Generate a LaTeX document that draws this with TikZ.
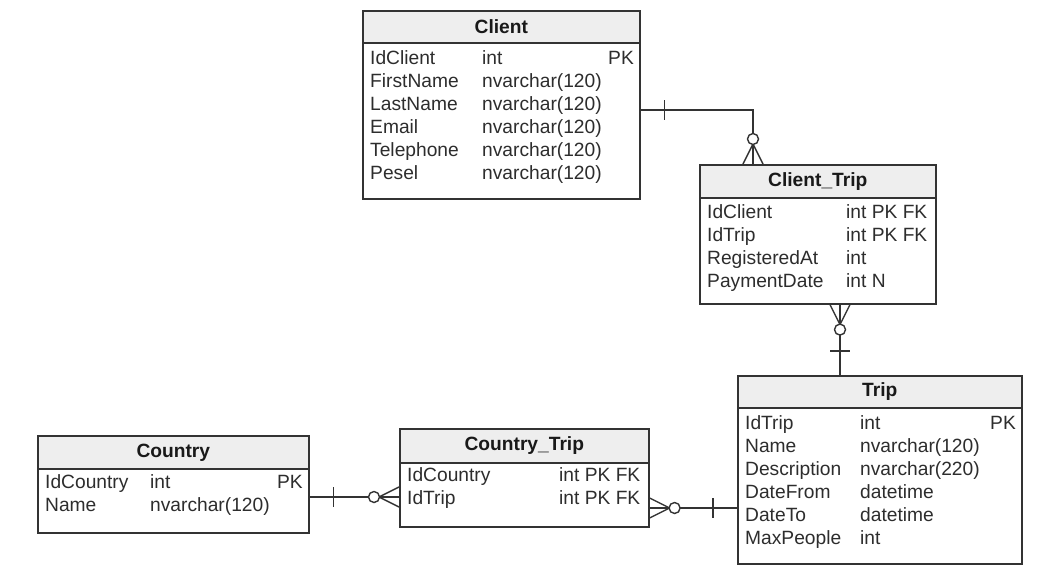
\documentclass[tikz,border=0pt]{standalone}
\usepackage{fontspec}
\setmainfont{Liberation Sans}
\usetikzlibrary{calc}
\definecolor{headgray}{RGB}{238,238,238}
\definecolor{edgegray}{RGB}{51,51,51}
\definecolor{textgray}{RGB}{45,45,45}

\begin{document}
\begin{tikzpicture}[x=1pt, y=-1pt,
  font=\fontsize{19.2}{22}\selectfont,
  tbl/.style={draw=edgegray, line width=1.6pt, fill=white, inner sep=0pt, anchor=north west},
  tblhead/.style={tbl, fill=headgray, font=\fontsize{19.2}{22}\selectfont\bfseries, text=black!90},
  fld/.style={anchor=base west, inner sep=0pt, text=textgray},
  keyfld/.style={anchor=base east, inner sep=0pt, text=textgray},
  rel/.style={draw=edgegray, line width=1.4pt}]
\useasboundingbox (0,0) rectangle (1055,571);

% tables
\node[tbl, minimum width=277pt, minimum height=188pt] (client) at (362,10) {};
\node[tblhead, minimum width=277pt, minimum height=32pt] (clienthd) at (362,10) {Client};
\foreach \a/\b [count=\i] in {IdClient/int, FirstName/nvarchar(120), LastName/nvarchar(120),
    Email/nvarchar(120), Telephone/nvarchar(120), Pesel/nvarchar(120)}{
  \node[fld] (client-n\i) at (370,{41+23*\i}) {\a};
  \node[fld] (client-t\i) at (482,{41+23*\i}) {\b};
}
\node[keyfld] (client-k) at (634,64) {PK};

\node[tbl, minimum width=236pt, minimum height=139pt] (ctrip) at (699,164) {};
\node[tblhead, minimum width=236pt, minimum height=33pt] (ctriphd) at (699,164) {Client\_Trip};
\foreach \a/\b [count=\i] in {IdClient/int PK FK, IdTrip/int PK FK, RegisteredAt/int, PaymentDate/int N}{
  \node[fld] (ctrip-n\i) at (707,{195.5+23*\i}) {\a};
  \node[fld] (ctrip-t\i) at (846,{195.5+23*\i}) {\b};
}

\node[tbl, minimum width=284pt, minimum height=188pt] (trip) at (737,375) {};
\node[tblhead, minimum width=284pt, minimum height=32pt] (triphd) at (737,375) {Trip};
\foreach \a/\b [count=\i] in {IdTrip/int, Name/nvarchar(120), Description/nvarchar(220),
    DateFrom/datetime, DateTo/datetime, MaxPeople/int}{
  \node[fld] (trip-n\i) at (745,{406.5+23*\i}) {\a};
  \node[fld] (trip-t\i) at (860,{406.5+23*\i}) {\b};
}
\node[keyfld] (trip-k) at (1016,429.5) {PK};

\node[tbl, minimum width=271pt, minimum height=97pt] (country) at (37,435) {};
\node[tblhead, minimum width=271pt, minimum height=33pt] (countryhd) at (37,435) {Country};
\foreach \a/\b [count=\i] in {IdCountry/int, Name/nvarchar(120)}{
  \node[fld] (country-n\i) at (45,{465.5+23*\i}) {\a};
  \node[fld] (country-t\i) at (150,{465.5+23*\i}) {\b};
}
\node[keyfld] (country-k) at (303,488.5) {PK};

\node[tbl, minimum width=249pt, minimum height=98pt] (cotrip) at (399,428) {};
\node[tblhead, minimum width=249pt, minimum height=34pt] (cotriphd) at (399,428) {Country\_Trip};
\foreach \a/\b [count=\i] in {IdCountry/int PK FK, IdTrip/int PK FK}{
  \node[fld] (cotrip-n\i) at (407,{458.5+23*\i}) {\a};
  \node[fld] (cotrip-t\i) at (559,{458.5+23*\i}) {\b};
}

% relations: bar on the "one" side, circle + crow's foot on the "many" side
\coordinate (r1a) at ($(client.north east)+(0,100)$);
\coordinate (r1b) at ($(ctrip.north west)+(54,0)$);
\draw[rel] (r1a) -| (r1b);
\draw[rel] ($(r1a)+(24,-10)$) -- ($(r1a)+(24,10)$);
\draw[rel] ($(r1b)+(-10,0)$) -- ($(r1b)+(0,-20)$) -- ($(r1b)+(10,0)$);
\draw[rel, fill=white] ($(r1b)+(0,-25)$) circle[radius=5.5];

\coordinate (r2a) at ($(ctrip.south west)+(141,0)$);
\coordinate (r2b) at (r2a |- trip.north);
\draw[rel] (r2a) -- (r2b);
\draw[rel] ($(r2b)+(-10,-24)$) -- ($(r2b)+(10,-24)$);
\draw[rel] ($(r2a)+(-10,0)$) -- ($(r2a)+(0,20)$) -- ($(r2a)+(10,0)$);
\draw[rel, fill=white] ($(r2a)+(0,25)$) circle[radius=5.5];

\coordinate (r3a) at ($(country.north east)+(0,62)$);
\coordinate (r3b) at (r3a -| cotrip.west);
\draw[rel] (r3a) -- (r3b);
\draw[rel] ($(r3a)+(24,-10)$) -- ($(r3a)+(24,10)$);
\draw[rel] ($(r3b)+(0,-10)$) -- ($(r3b)+(-20,0)$) -- ($(r3b)+(0,10)$);
\draw[rel, fill=white] ($(r3b)+(-25,0)$) circle[radius=5.5];

\coordinate (r4a) at ($(cotrip.north east)+(0,80)$);
\coordinate (r4b) at (r4a -| trip.west);
\draw[rel] (r4a) -- (r4b);
\draw[rel] ($(r4b)+(-24,-10)$) -- ($(r4b)+(-24,10)$);
\draw[rel] ($(r4a)+(0,-10)$) -- ($(r4a)+(20,0)$) -- ($(r4a)+(0,10)$);
\draw[rel, fill=white] ($(r4a)+(25,0)$) circle[radius=5.5];
\end{tikzpicture}
\end{document}
